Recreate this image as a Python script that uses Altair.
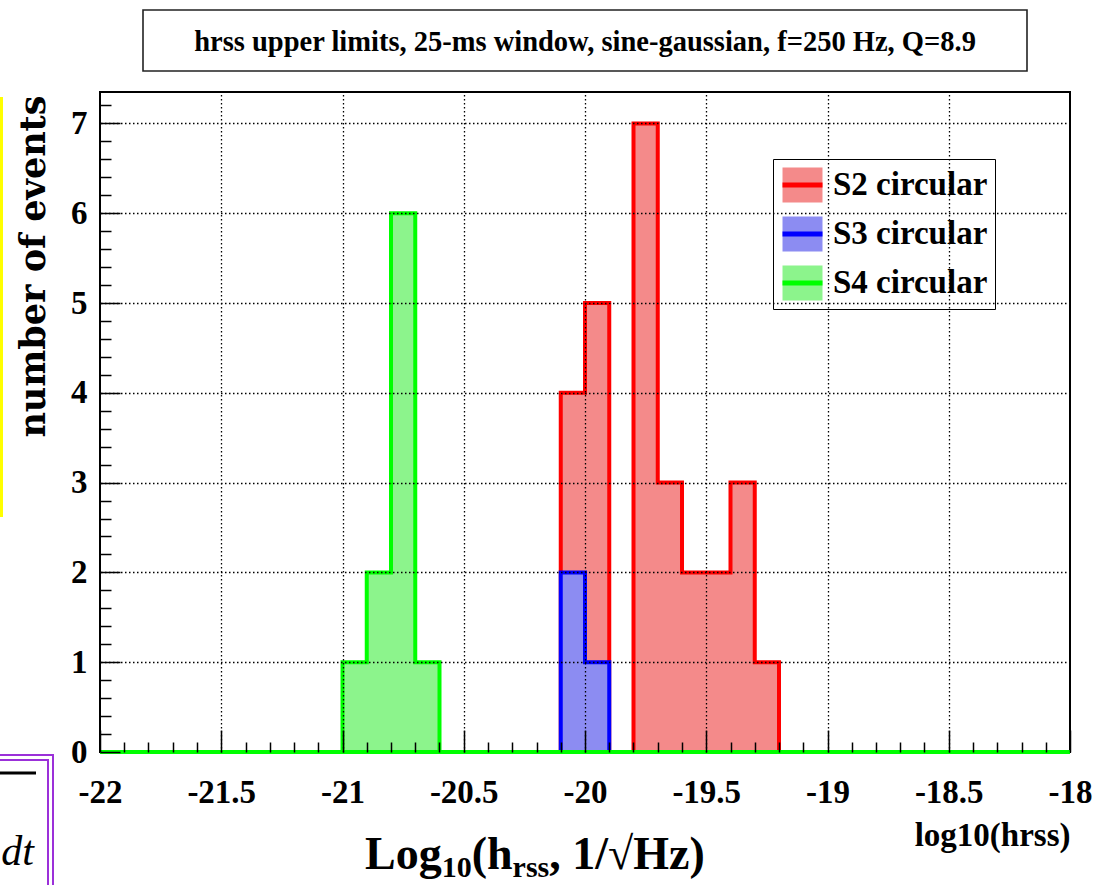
import altair as alt
import pandas as pd

# ---------------- values ----------------
series_names = ["S2 circular", "S3 circular", "S4 circular"]
fill_colors = ["#f48a8a", "#8c8cf2", "#8cf48c"]
line_colors = ["#ff0000", "#0000ff", "#00ff00"]

# histogram bins (left edge, width 0.1) and counts per series
s2_bin_lo = [-20.1, -20.0, -19.8, -19.7, -19.6, -19.5, -19.4, -19.3]
s2_counts = [4, 5, 7, 3, 2, 2, 3, 1]
s3_bin_lo = [-20.1, -20.0]
s3_counts = [2, 1]
s4_bin_lo = [-21.0, -20.9, -20.8, -20.7]
s4_counts = [1, 2, 6, 1]

x_range = [-22.0, -18.0]
y_range = [0.0, 7.35]
bin_width = 0.1
x_major_ticks = [-22.0, -21.5, -21.0, -20.5, -20.0, -19.5, -19.0, -18.5, -18.0]
y_major_ticks = [0, 1, 2, 3, 4, 5, 6, 7]
x_minor_step = 0.1
y_minor_step = 0.2
y_minor_top = 7.2

title_text = "hrss upper limits, 25-ms window, sine-gaussian, f=250 Hz, Q=8.9"
y_title = "number of events"
x_axis_title = "log10(hrss)"

# ---------------- build histogram table ----------------
n_bins = int(round((x_range[1] - x_range[0]) / bin_width))
edges = [round(x_range[0] + i * bin_width, 1) for i in range(n_bins + 1)]
series_data = {
    series_names[0]: dict(zip(s2_bin_lo, s2_counts)),
    series_names[1]: dict(zip(s3_bin_lo, s3_counts)),
    series_names[2]: dict(zip(s4_bin_lo, s4_counts)),
}
rows = []
for name, d in series_data.items():
    for e in edges:
        rows.append({"series": name, "x": e, "n": d.get(e, 0)})
hist_df = pd.DataFrame(rows)

x_minor = [round(x_range[0] + i * x_minor_step, 1) for i in range(n_bins + 1)]
y_minor = [round(i * y_minor_step, 1) for i in range(int(round(y_minor_top / y_minor_step)) + 1)]

# ---------------- layout ----------------
W, H = 970, 660
PAD = {"left": 100, "top": 92, "right": 26, "bottom": 133}
SERIF = "Liberation Serif"

x_scale = alt.Scale(domain=x_range, nice=False, zero=False)
y_scale = alt.Scale(domain=y_range, nice=False, zero=False)
fill_scale = alt.Scale(domain=series_names, range=fill_colors)
stroke_scale = alt.Scale(domain=series_names, range=line_colors)

major_x = "abs(datum.value*2 - round(datum.value*2)) < 0.01"
major_y = "abs(datum.value - round(datum.value)) < 0.01"

label_x_axis = alt.Axis(
    orient="bottom", values=x_major_ticks, labelExpr="toString(datum.value)",
    ticks=False, tickSize=0, domain=False, grid=False,
    labelFont=SERIF, labelFontWeight="bold", labelFontSize=33, labelColor="black",
    labelBaseline="alphabetic", labelPadding=50, labelFlush=False, labelOverlap=False,
    title=x_axis_title, titleFont=SERIF, titleFontWeight="bold", titleFontSize=33,
    titleColor="black", titleX=W, titleY=93, titleAlign="right", titleBaseline="alphabetic",
    titleAngle=0,
)
label_y_axis = alt.Axis(
    orient="left", values=y_major_ticks, labelExpr="toString(datum.value)",
    ticks=False, tickSize=0, domain=False, grid=False,
    labelFont=SERIF, labelFontWeight="bold", labelFontSize=33, labelColor="black",
    labelPadding=13, labelOverlap=False, labelFlush=False,
    title=y_title, titleFont="DejaVu Serif", titleFontWeight="bold", titleFontSize=35,
    titleColor="black", titleAngle=270, titleX=-56, titleY=3, titleAlign="right",
    titleBaseline="alphabetic",
)
tick_x_axis = alt.Axis(
    orient="top", offset=-H, values=x_minor, labels=False, domain=False,
    ticks=True, tickColor="black", tickWidth=1.5,
    tickSize={"condition": {"test": major_x, "value": 22}, "value": 10},
    grid=True, gridColor="black", gridDash=[1.5, 2.5], gridWidth=1.3,
    gridOpacity={"condition": {"test": major_x + " && datum.value > -21.99 && datum.value < -18.01", "value": 1}, "value": 0},
    zindex=1, title=None,
)
tick_y_axis = alt.Axis(
    orient="right", offset=-W, values=y_minor, labels=False, domain=False,
    ticks=True, tickColor="black", tickWidth=1.5,
    tickSize={"condition": {"test": major_y, "value": 20}, "value": 11},
    grid=True, gridColor="black", gridDash=[1.5, 2.5], gridWidth=1.3,
    gridOpacity={"condition": {"test": major_y + " && datum.value > 0.5", "value": 1}, "value": 0},
    zindex=1, title=None,
)

legend = alt.Legend(
    title=None, orient="none", legendX=673, legendY=67,
    symbolType="M-1,0H1V-0.875H-1V0.875H1V0Z", symbolSize=1600,
    symbolStrokeWidth=5, symbolDash=[40, 4000], symbolOpacity=1,
    labelFont=SERIF, labelFontWeight="bold", labelFontSize=33, labelColor="black",
    labelOffset=8, labelLimit=400, rowPadding=11, padding=7, clipHeight=38,
    strokeColor="black", fillColor="white",
)

def hist_layer(name, xaxis, yaxis):
    return alt.Chart(hist_df).transform_filter(alt.datum.series == name).mark_area(
        interpolate="step-after", strokeWidth=4, strokeJoin="miter", opacity=1, fillOpacity=1
    ).encode(
        x=alt.X("x:Q", scale=x_scale, axis=xaxis),
        y=alt.Y("n:Q", scale=y_scale, axis=yaxis, stack=None),
        fill=alt.Fill("series:N", scale=fill_scale, legend=legend),
        stroke=alt.Stroke("series:N", scale=stroke_scale, legend=legend),
    )

layer_s2 = hist_layer(series_names[0], label_x_axis, label_y_axis)
layer_s3 = hist_layer(series_names[1], tick_x_axis, tick_y_axis)
layer_s4 = hist_layer(series_names[2], None, None)

# ---------------- annotations (pixel positions relative to the plot origin) ----------------
one = pd.DataFrame({"k": [0]})

def px_rule(x1, y1, x2, y2, color, width):
    return alt.Chart(one).mark_rule(color=color, strokeWidth=width).encode(
        x=alt.value(x1), y=alt.value(y1), x2=alt.value(x2), y2=alt.value(y2))

def px_text(txt, x, y, size, font=SERIF, weight="bold", style="normal", align="left"):
    return alt.Chart(one).mark_text(
        text=txt, font=font, fontSize=size, fontWeight=weight, fontStyle=style,
        align=align, baseline="alphabetic", color="black"
    ).encode(x=alt.value(x), y=alt.value(y))

title_box = alt.Chart(one).mark_rect(fill="white", stroke="#222222", strokeWidth=1.6).encode(
    x=alt.value(43), x2=alt.value(927), y=alt.value(-82), y2=alt.value(-21))
title_mark = px_text(title_text, 485, -41, 28.5, align="center")

# Big x label: Log10(hrss, 1/sqrt(Hz)) with subscripts
tw = {"L": .667, "o": .5, "g": .5, "1": .5, "0": .5, "(": .333, "h": .556, "r": .444,
      "s": .389, ",": .25, " ": .25, "/": .278, "\u221a": .549, "H": .778, "z": .444, ")": .333}
segments = [("Log", 46, 0), ("10", 30, 8), ("(h", 46, 0), ("rss", 30, 8), (", 1/\u221aHz)", 46, 0)]
big_label_layers = []
cx = 265
for s, size, dy in segments:
    big_label_layers.append(px_text(s, cx, 777 + dy, size))
    cx += sum(tw[c] for c in s) * size

# cropping artefacts at the left edge of the reference
artefacts = [
    px_rule(-98.5, 5, -98.5, 425, "#ffff00", 3),
    px_rule(-100, 663, -46, 663, "#9b30d9", 2),
    px_rule(-100, 668, -51, 668, "#9b30d9", 2),
    px_rule(-47, 663, -47, 793, "#9b30d9", 2),
    px_rule(-52, 668, -52, 793, "#9b30d9", 2),
    px_rule(-100, 681, -64, 681, "black", 3),
    px_text("dt", -66, 773, 42, weight="normal", style="italic", align="right"),
]

chart = alt.layer(
    layer_s2, layer_s3, layer_s4, title_box, title_mark, *big_label_layers, *artefacts
).properties(
    width=W, height=H, autosize=alt.AutoSizeParams(type="none"), padding=PAD,
    background="white",
).resolve_axis(
    x="independent", y="independent"
).configure_view(
    stroke="black", strokeWidth=2
)

chart.save("out.html", embed_options={"renderer": "svg", "actions": False})
